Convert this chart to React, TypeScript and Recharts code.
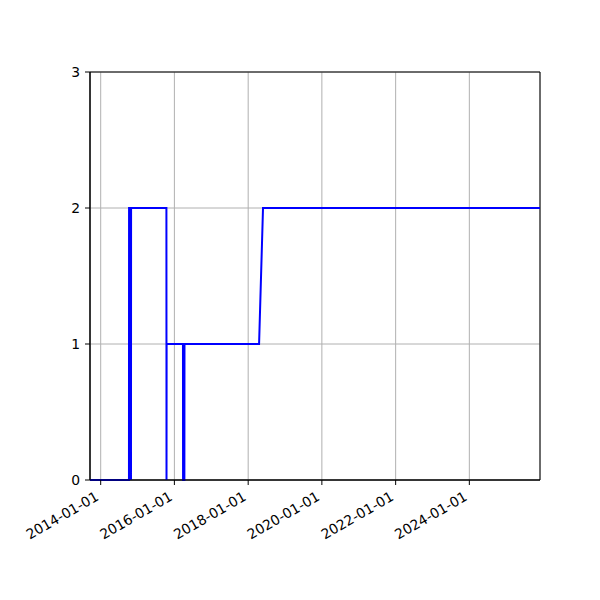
import React from "react"
import { LineChart, Line, XAxis, YAxis, CartesianGrid, ReferenceArea } from "recharts"

// sample dates and the count at each one
const dates = [
  "2013-09-17", "2014-10-08", "2014-10-09", "2014-10-27", "2014-10-28", "2014-10-29",
  "2015-10-14", "2015-10-15", "2015-10-16", "2016-03-26", "2016-03-27", "2016-04-09",
  "2016-04-10", "2018-04-19", "2018-05-28", "2025-12-01",
]
const values = [0, 0, 2, 2, 0, 2, 2, 0, 1, 1, 0, 0, 1, 1, 2, 2]

const xTickDates = ["2014-01-01", "2016-01-01", "2018-01-01", "2020-01-01", "2022-01-01", "2024-01-01"]
const yTicks = [0, 1, 2, 3]
const xDomain = [Date.parse("2013-09-17"), Date.parse("2025-12-01")]

const data = dates.map((d, i) => ({ t: Date.parse(d), v: values[i] }))
const xTicks = xTickDates.map((d) => Date.parse(d))

const font = "DejaVu Sans, sans-serif"

const fmtDate = (t: number) => new Date(t).toISOString().slice(0, 10)

function DateTick(props: any) {
  const { x, y, payload } = props
  return (
    <g transform={`translate(${x - 6.5},${y}) rotate(-30)`}>
      <text textAnchor="end" dy="0.78em" fontSize={13.9} fontFamily={font} fill="#000">
        {fmtDate(payload.value)}
      </text>
    </g>
  )
}

export default function App() {
  return (
    <div style={{ position: "absolute", left: 0, top: 0, width: 600, height: 600, background: "#fff" }}>
      <LineChart width={600} height={600} data={data} margin={{ top: 72, right: 60, bottom: 60, left: 40 }}>
        <CartesianGrid stroke="#b0b0b0" strokeWidth={1} />
        <XAxis
          dataKey="t"
          type="number"
          domain={xDomain}
          ticks={xTicks}
          allowDataOverflow
          height={60}
          tickSize={5}
          tickMargin={5}
          axisLine={{ stroke: "#000", strokeWidth: 1 }}
          tickLine={{ stroke: "#000", strokeWidth: 1 }}
          tick={<DateTick />}
          interval={0}
        />
        <YAxis
          type="number"
          domain={[0, 3]}
          ticks={yTicks}
          width={50}
          tickSize={5}
          tickMargin={5}
          axisLine={{ stroke: "#000", strokeWidth: 1 }}
          tickLine={{ stroke: "#000", strokeWidth: 1 }}
          tick={{ fill: "#000", fontSize: 13.9, fontFamily: font }}
          interval={0}
        />
        <ReferenceArea
          x1={xDomain[0]}
          x2={xDomain[1]}
          y1={0}
          y2={3}
          fill="none"
          stroke="#000"
          strokeWidth={1}
          fillOpacity={0}
          ifOverflow="visible"
        />
        <Line
          type="linear"
          dataKey="v"
          stroke="#0000ff"
          strokeWidth={2}
          dot={false}
          isAnimationActive={false}
        />
      </LineChart>
    </div>
  )
}
